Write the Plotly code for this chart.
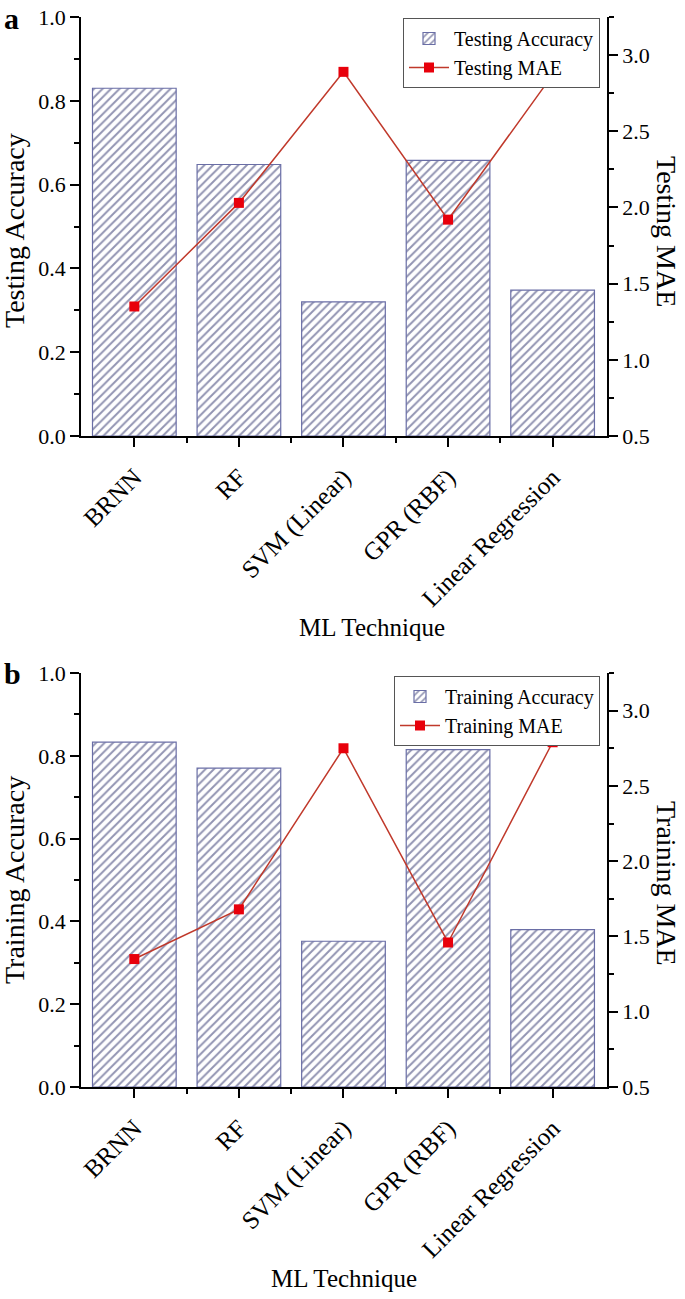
import plotly.graph_objects as go

categories = ["BRNN", "RF", "SVM (Linear)", "GPR (RBF)", "Linear Regression"]
testing_accuracy = [0.830, 0.648, 0.320, 0.658, 0.348]
testing_mae = [1.35, 2.03, 2.89, 1.92, 2.87]
training_accuracy = [0.833, 0.770, 0.352, 0.815, 0.380]
training_mae = [1.35, 1.68, 2.75, 1.46, 2.79]

xpos = list(range(len(categories)))
FONT = "Liberation Serif, Times New Roman, serif"
BAR_EDGE = "#6a6ea6"
HATCH = "#262a66"
LINE_C = "#c0392b"
MARK_C = "#e8000b"

fig = go.Figure()

def add_panel(acc, mae, acc_name, mae_name, xa, ya, ya2, legend):
    fig.add_trace(go.Bar(
        x=xpos, y=acc, name=acc_name, width=0.8,
        xaxis=xa, yaxis=ya, legend=legend,
        marker=dict(color="white", line=dict(color=BAR_EDGE, width=1.2),
                    pattern=dict(shape="/", fgcolor=HATCH, bgcolor="white",
                                 size=6, solidity=0.33)),
    ))
    fig.add_trace(go.Scatter(
        x=xpos, y=mae, name=mae_name, mode="lines+markers",
        xaxis=xa, yaxis=ya2, legend=legend,
        line=dict(color=LINE_C, width=1.5),
        marker=dict(symbol="square", size=10, color=MARK_C),
    ))

add_panel(testing_accuracy, testing_mae, "Testing Accuracy", "Testing MAE", "x", "y", "y2", "legend")
add_panel(training_accuracy, training_mae, "Training Accuracy", "Training MAE", "x2", "y3", "y4", "legend2")

H = 1299
W = 685
top_dom = [1 - 436 / H, 1 - 17 / H]
bot_dom = [1 - 1087 / H, 1 - 673 / H]
xdom = [81 / W, 607 / W]
xrange_ = [-0.51, 4.52]

ytickfont = dict(family=FONT, size=22, color="black")
xtickfont = dict(family=FONT, size=25, color="black")

def xaxis(anchor):
    return dict(domain=xdom, anchor=anchor, range=xrange_, tickmode="array",
                tickvals=xpos, ticktext=categories, tickangle=-45,
                ticks="outside", ticklen=9, tickwidth=1.5, tickcolor="black",
                ticklabelstandoff=6,
                minor=dict(tickvals=[0.5, 1.5, 2.5, 3.5], ticks="outside",
                           ticklen=5, tickwidth=1.5, tickcolor="black"),
                showline=True, linecolor="black", linewidth=1.5,
                showgrid=False, zeroline=False, tickfont=xtickfont,
                automargin=False)

def xtop(overlay, anchor):
    return dict(domain=xdom, overlaying=overlay, anchor=anchor, side="top",
                range=xrange_, tickmode="array", tickvals=xpos,
                showticklabels=False, ticks="inside", ticklen=8, tickwidth=1.5,
                tickcolor="black",
                minor=dict(tickvals=[0.5, 1.5, 2.5, 3.5], ticks="inside",
                           ticklen=4, tickwidth=1.5, tickcolor="black"),
                showline=True, linecolor="black", linewidth=1.5,
                showgrid=False, zeroline=False)

def yleft(dom, anchor):
    return dict(domain=dom, anchor=anchor, range=[0, 1.0], dtick=0.2,
                tickformat=".1f", ticks="outside", ticklen=9, tickwidth=1.5,
                tickcolor="black",
                minor=dict(dtick=0.1, ticks="outside", ticklen=5,
                           tickwidth=1.5, tickcolor="black"),
                showline=True, linecolor="black", linewidth=1.5,
                showgrid=False, zeroline=False, tickfont=ytickfont,
                automargin=False)

def yright(overlay, anchor):
    return dict(overlaying=overlay, anchor=anchor, side="right",
                range=[0.5, 3.25], dtick=0.5, tick0=0.5, tickformat=".1f",
                ticks="outside", ticklen=9, tickwidth=1.5, tickcolor="black",
                minor=dict(dtick=0.25, tick0=0.5, ticks="outside", ticklen=5,
                           tickwidth=1.5, tickcolor="black"),
                showline=True, linecolor="black", linewidth=1.5,
                showgrid=False, zeroline=False, tickfont=ytickfont,
                automargin=False)

legend_common = dict(
    bgcolor="white", bordercolor="#555555", borderwidth=1,
    font=dict(family=FONT, size=20, color="black"),
    xanchor="right", yanchor="top", tracegroupgap=0, itemwidth=40,
)

fig.update_layout(
    width=W, height=H,
    margin=dict(l=0, r=0, t=0, b=0),
    paper_bgcolor="white", plot_bgcolor="white",
    font=dict(family=FONT, color="black"),
    bargap=0.2,
    xaxis=xaxis("y"),
    yaxis=yleft(top_dom, "x"),
    yaxis2=yright("y", "x"),
    xaxis3=xtop("x", "y"),
    xaxis2=xaxis("y3"),
    yaxis3=yleft(bot_dom, "x2"),
    yaxis4=yright("y3", "x2"),
    xaxis4=xtop("x2", "y3"),
    legend=dict(x=600 / W, y=1 - 18 / H, **legend_common),
    legend2=dict(x=600 / W, y=1 - 676 / H, **legend_common),
    showlegend=True,
)

ann_font = dict(family=FONT, size=28, color="black")
annotations = [
    dict(text="<b>a</b>", x=2 / W, y=1 - 0 / H, xref="paper", yref="paper",
         xanchor="left", yanchor="top", showarrow=False,
         font=dict(family=FONT, size=30, color="black")),
    dict(text="<b>b</b>", x=2 / W, y=1 - 655 / H, xref="paper", yref="paper",
         xanchor="left", yanchor="top", showarrow=False,
         font=dict(family=FONT, size=30, color="black")),
    dict(text="ML Technique", x=372 / W, y=1 - 628 / H, xref="paper", yref="paper",
         xanchor="center", yanchor="middle", showarrow=False,
         font=dict(family=FONT, size=25, color="black")),
    dict(text="ML Technique", x=344 / W, y=1 - 1278 / H, xref="paper", yref="paper",
         xanchor="center", yanchor="middle", showarrow=False,
         font=dict(family=FONT, size=25, color="black")),
    dict(text="Testing Accuracy", x=14 / W, y=1 - 231 / H, xref="paper", yref="paper",
         xanchor="center", yanchor="middle", textangle=-90, showarrow=False, font=ann_font),
    dict(text="Training Accuracy", x=14 / W, y=1 - 880 / H, xref="paper", yref="paper",
         xanchor="center", yanchor="middle", textangle=-90, showarrow=False, font=ann_font),
    dict(text="Testing MAE", x=667 / W, y=1 - 231 / H, xref="paper", yref="paper",
         xanchor="center", yanchor="middle", textangle=90, showarrow=False, font=ann_font),
    dict(text="Training MAE", x=667 / W, y=1 - 883 / H, xref="paper", yref="paper",
         xanchor="center", yanchor="middle", textangle=90, showarrow=False, font=ann_font),
]
fig.update_layout(annotations=annotations)

fig.write_html("out.html", config={"displayModeBar": False},
               post_script="document.body.style.margin='0';document.body.style.padding='0';document.body.style.overflow='hidden';")
